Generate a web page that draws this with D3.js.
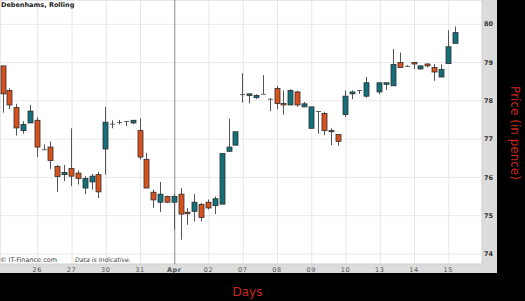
<!DOCTYPE html>
<html>
<head>
<meta charset="utf-8">
<script src="https://cdn.jsdelivr.net/npm/d3@7"></script>
<style>
body { margin: 0; background: #000; }
svg { display: block; }
</style>
</head>
<body>
<svg id="chart"></svg>
<script>
// day labels, one every 5 slots starting at slot 5
var dayLabels = ["26", "27", "30", "31", "Apr", "02", "07", "08", "09", "10", "13", "14", "15"];
var priceTicks = [74, 75, 76, 77, 78, 79, 80];

// rolling candles (slot 54 is empty)
var opens  = [78.90, 78.26, 77.81, 77.21, 77.41, 77.48, 76.72, 76.78, 76.27, 76.06,
              76.22, 76.10, 75.71, 75.87, 76.06, 76.73, 77.39, 77.43, 77.46, 77.41,
              77.21, 76.46, 75.60, 75.34, 75.49, 75.34, 75.55, 75.08, 75.10, 75.28,
              75.34, 75.25, 75.29, 76.67, 76.83, 78.16, 78.13, 78.07, 78.17, 78.04,
              78.31, 77.92, 77.88, 78.22, 77.83, 77.27, 77.72, 77.66, 77.18, 77.11,
              77.63, 78.17, 78.27, 78.11, null, 78.22, 78.42, 78.38, 78.99, 78.90,
              78.99, 78.82, 78.95, 78.86, 78.61, 78.96, 79.49];
var highs  = [78.90, 78.32, 77.91, 77.46, 77.88, 77.56, 76.85, 76.93, 76.31, 76.31,
              77.27, 76.17, 76.02, 76.08, 76.13, 77.83, 77.48, 77.49, 77.46, 77.48,
              77.53, 76.63, 75.67, 75.87, 75.51, 75.55, 75.71, 75.19, 75.55, 75.32,
              75.41, 75.49, 76.61, 77.52, 77.18, 78.71, 78.17, 78.16, 78.66, 78.06,
              78.38, 78.26, 78.29, 78.25, 77.96, 77.83, 77.72, 77.70, 77.27, 77.11,
              78.26, 78.26, 78.27, 78.61, null, 78.46, 78.46, 79.34, 79.25, 78.92,
              78.99, 78.92, 78.97, 78.95, 78.94, 79.83, 79.93];
var lows   = [77.68, 77.77, 77.08, 77.13, 77.41, 76.52, 76.71, 76.21, 75.61, 75.89,
              75.76, 75.80, 75.55, 75.67, 75.45, 76.06, 77.27, 77.37, 77.33, 77.38,
              76.46, 75.71, 75.19, 75.08, 75.32, 74.62, 74.36, 74.75, 74.84, 74.84,
              75.15, 75.03, 75.29, 76.67, 76.83, 77.94, 77.92, 78.04, 78.17, 77.72,
              77.77, 77.63, 77.88, 77.83, 77.83, 77.27, 77.13, 77.09, 76.83, 76.82,
              77.57, 78.03, 78.17, 78.07, null, 78.16, 78.27, 78.38, 78.86, 78.88,
              78.82, 78.80, 78.86, 78.51, 78.61, 78.96, 79.49];
var closes = [78.17, 77.88, 77.28, 77.37, 77.72, 76.78, 76.72, 76.43, 76.01, 76.12,
              76.02, 75.96, 75.96, 76.02, 75.61, 77.43, 77.39, 77.43, 77.46, 77.48,
              76.52, 75.71, 75.40, 75.55, 75.34, 75.49, 75.03, 75.04, 75.34, 74.94,
              75.19, 75.43, 76.61, 76.78, 77.18, 78.16, 78.17, 78.13, 78.17, 78.04,
              77.92, 77.88, 78.26, 77.88, 77.91, 77.83, 77.72, 77.21, 77.21, 76.93,
              78.11, 78.22, 78.27, 78.46, null, 78.46, 78.46, 78.94, 78.86, 78.90,
              78.95, 78.90, 78.90, 78.74, 78.81, 79.40, 79.77];

var width = 525, height = 301;
var plotW = 482, plotH = 264;
var upColor = "#13707b", downColor = "#d8511d";
var red = "#c92a1f";

var svg = d3.select("#chart")
    .attr("width", width)
    .attr("height", height);

// grey frame and white plot
svg.append("rect").attr("x", 0).attr("y", 0).attr("width", 497).attr("height", 273).attr("fill", "#dcdcdc");
svg.append("rect").attr("x", 0).attr("y", 0).attr("width", plotW).attr("height", plotH)
    .attr("fill", "#fff").attr("stroke", "#cfcfcf").attr("stroke-width", 1);

var x = d3.scaleLinear().domain([0, 69]).range([2.5, 475.15]);
var y = d3.scaleLinear().domain([74, 80]).range([253.5, 23.8]);

var daySlots = dayLabels.map(function(d, i) { return (i + 1) * 5; });

// gridlines
var hGrid = svg.append("g")
    .call(d3.axisLeft(y).tickValues(priceTicks).tickSize(-plotW).tickFormat(""));
hGrid.select(".domain").remove();
hGrid.selectAll("line").attr("stroke", "#e9e9e9");

var vGrid = svg.append("g")
    .attr("transform", "translate(0," + plotH + ")")
    .call(d3.axisBottom(x).tickValues(daySlots).tickSize(-plotH).tickFormat(""));
vGrid.select(".domain").remove();
vGrid.selectAll("line")
    .attr("stroke", function(d) { return d === 25 ? "#8a8a8a" : "#e6e6e6"; })
    .attr("transform", "translate(0.5,0)");

// candles
var candles = d3.range(opens.length)
    .filter(function(i) { return opens[i] !== null; })
    .map(function(i) {
        return { i: i, o: opens[i], h: highs[i], l: lows[i], c: closes[i] };
    });

var g = svg.append("g");

g.selectAll(".wick")
    .data(candles)
    .enter().append("line")
    .attr("class", "wick")
    .attr("x1", function(d) { return Math.round(x(d.i)) + 0.5; })
    .attr("x2", function(d) { return Math.round(x(d.i)) + 0.5; })
    .attr("y1", function(d) { return y(d.h); })
    .attr("y2", function(d) { return y(d.l); })
    .attr("stroke", "#555")
    .attr("stroke-width", 1);

g.selectAll(".body")
    .data(candles)
    .enter().append("rect")
    .attr("class", "body")
    .attr("x", function(d) { return Math.round(x(d.i)) - 2; })
    .attr("width", 5)
    .attr("y", function(d) { return y(Math.max(d.o, d.c)); })
    .attr("height", function(d) { return Math.max(0.8, Math.abs(y(d.o) - y(d.c))); })
    .attr("fill", function(d) {
        if (d.o === d.c) return "#444";
        return d.c > d.o ? upColor : downColor;
    })
    .attr("stroke", "#2e2e2e")
    .attr("stroke-width", function(d) { return d.o === d.c ? 0 : 0.8; });

// axis labels
var yAxis = svg.append("g")
    .attr("transform", "translate(" + plotW + ",0)")
    .call(d3.axisRight(y).tickValues(priceTicks).tickSize(0).tickPadding(2).tickFormat(d3.format("d")));
yAxis.select(".domain").remove();
yAxis.selectAll("text")
    .style("font-family", "DejaVu Sans")
    .style("font-size", "6.5px")
    .style("font-weight", "bold")
    .attr("fill", "#333");

var xAxis = svg.append("g")
    .attr("transform", "translate(0," + plotH + ")")
    .call(d3.axisBottom(x).tickValues(daySlots).tickSize(0).tickPadding(3)
        .tickFormat(function(d, i) { return dayLabels[i]; }));
xAxis.select(".domain").remove();
xAxis.selectAll("text")
    .style("font-family", "DejaVu Sans")
    .style("font-size", "6.5px")
    .style("letter-spacing", "0.6px")
    .style("font-weight", function(d, i) { return dayLabels[i] === "Apr" ? "bold" : "normal"; })
    .attr("fill", "#555");

// title and notes
svg.append("text").attr("x", 1).attr("y", 7).text("Debenhams, Rolling")
    .style("font-family", "DejaVu Sans").style("font-size", "6.5px").style("font-weight", "bold").attr("fill", "#222");

svg.append("text").attr("x", 0).attr("y", 262).text("© IT-Finance.com")
    .style("font-family", "DejaVu Sans").style("font-size", "6.5px").attr("fill", "#444");
svg.append("text").attr("x", 75).attr("y", 262).text("Data is Indicative.")
    .style("font-family", "DejaVu Sans").style("font-size", "6.2px").style("font-style", "italic").attr("fill", "#444");

svg.append("text").attr("x", 247.5).attr("y", 296).attr("text-anchor", "middle").text("Days")
    .style("font-family", "DejaVu Sans").style("font-size", "12px").attr("fill", red);

svg.append("text").attr("transform", "translate(511,133) rotate(90)").attr("text-anchor", "middle")
    .text("Price (in pence)")
    .style("font-family", "DejaVu Sans").style("font-size", "12px").attr("fill", red);
</script>
</body>
</html>
